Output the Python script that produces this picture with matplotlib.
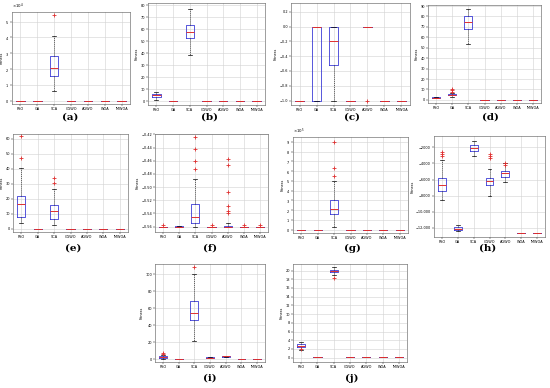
import matplotlib
matplotlib.use("Agg")
import matplotlib.pyplot as plt
from matplotlib.ticker import ScalarFormatter, MultipleLocator, FuncFormatter

W, H = 550, 388
categories = ["PSO", "GA", "SCA", "CGWO", "AGWO", "WOA", "IMWOA"]

# stats per category: [whislo, q1, median, q3, whishi]
stats_a = [[0, 0, 0, 0, 0], [0, 0, 0, 0, 0], [0.65e4, 1.55e4, 2.1e4, 2.8e4, 4.1e4],
           [0, 0, 0, 0, 0], [0, 0, 0, 0, 0], [0, 0, 0, 0, 0], [0, 0, 0, 0, 0]]
fliers_a = [[], [], [5.4e4], [], [], [], []]

stats_b = [[1.5, 3.5, 5, 6.5, 8], [0.3, 0.3, 0.3, 0.3, 0.3], [38.8, 53, 57.6, 64, 77],
           [0.3, 0.3, 0.3, 0.3, 0.3], [0.3, 0.3, 0.3, 0.3, 0.3], [0.3, 0.3, 0.3, 0.3, 0.3],
           [0.3, 0.3, 0.3, 0.3, 0.3]]
fliers_b = [[], [], [], [], [], [], []]

stats_c = [[-1, -1, -1, -1, -1], [-1, -1, 0, 0, 0], [-1, -0.514, -0.19, 0, 0],
           [-1, -1, -1, -1, -1], [0, 0, 0, 0, 0], [-1, -1, -1, -1, -1], [-1, -1, -1, -1, -1]]
fliers_c = [[], [], [], [], [-1], [], []]

stats_d = [[1.5, 2, 2.2, 2.5, 3], [3, 4.3, 5, 5.7, 7], [54, 67.7, 75, 80.7, 86.7],
           [0.3, 0.3, 0.3, 0.3, 0.3], [0.3, 0.3, 0.3, 0.3, 0.3], [0.3, 0.3, 0.3, 0.3, 0.3],
           [0.3, 0.3, 0.3, 0.3, 0.3]]
fliers_d = [[], [8, 9, 10], [], [], [], [], []]

stats_e = [[4, 8.2, 16.4, 22.2, 40.7], [0.3, 0.3, 0.3, 0.3, 0.3], [2.8, 6.8, 12, 16.2, 26.7],
           [0.2, 0.2, 0.2, 0.2, 0.2], [0.2, 0.2, 0.2, 0.2, 0.2], [0.1, 0.1, 0.1, 0.1, 0.1],
           [0.2, 0.2, 0.2, 0.2, 0.2]]
fliers_e = [[47.3, 61.4], [], [30.2, 34], [], [], [], []]

stats_f = [[-0.56, -0.56, -0.56, -0.56, -0.56], [-0.561, -0.561, -0.56, -0.5585, -0.5585],
           [-0.5605, -0.5548, -0.545, -0.5255, -0.488], [-0.56, -0.56, -0.56, -0.56, -0.56],
           [-0.5605, -0.5605, -0.56, -0.5585, -0.5548], [-0.56, -0.56, -0.56, -0.56, -0.56],
           [-0.56, -0.56, -0.56, -0.56, -0.56]]
fliers_f = [[-0.558], [], [-0.4235, -0.442, -0.4605, -0.473], [-0.558],
            [-0.457, -0.466, -0.508, -0.529, -0.537, -0.540], [-0.558], [-0.558]]

stats_g = [[0, 0, 0, 0, 0], [0, 0, 0, 0, 0], [0.24e5, 1.6e5, 2.1e5, 3.06e5, 4.95e5],
           [0, 0, 0, 0, 0], [0, 0, 0, 0, 0], [0, 0, 0, 0, 0], [0, 0, 0, 0, 0]]
fliers_g = [[], [], [9e5, 6.3e5, 5.5e5], [], [], [], []]

stats_h = [[-8510, -7440, -6610, -5780, -3580], [-12400, -12290, -12080, -11920, -11670],
           [-3040, -2460, -2120, -1710, -1170], [-7980, -6690, -6190, -5780, -4700],
           [-6270, -5650, -5240, -4950, -3990], [-12580, -12580, -12580, -12580, -12580],
           [-12580, -12580, -12580, -12580, -12580]]
fliers_h = [[-2540, -2800, -3080], [], [], [-2830, -3100, -3370], [-3900, -4160], [], []]

stats_i = [[1, 2, 3, 4, 5.5], [0.5, 0.5, 0.5, 0.5, 0.5], [21.6, 46, 55, 68, 100],
           [1.5, 1.8, 2, 2.3, 2.8], [3, 3.3, 3.5, 3.7, 4], [0.5, 0.5, 0.5, 0.5, 0.5],
           [0.5, 0.5, 0.5, 0.5, 0.5]]
fliers_i = [[6, 7], [], [108], [], [], [], []]

stats_j = [[1.73, 2.36, 2.76, 3.15, 3.7], [0.1, 0.1, 0.1, 0.1, 0.1], [19.05, 19.6, 19.9, 20.2, 20.8],
           [0.1, 0.1, 0.1, 0.1, 0.1], [0.05, 0.05, 0.05, 0.05, 0.05], [0.05, 0.05, 0.05, 0.05, 0.05],
           [0.05, 0.05, 0.05, 0.05, 0.05]]
fliers_j = [[1.9], [], [18.4], [], [], [], []]

panels = [
    ("(a)", stats_a, fliers_a, (12, 130, 12, 104), (-0.2e4, 5.6e4), 1e4, 70, 117, True),
    ("(b)", stats_b, fliers_b, (148, 265, 3, 105), (-3, 82), 10, 210, 117, False),
    ("(c)", stats_c, fliers_c, (291, 410, 3, 105), (-1.06, 0.32), 0.2, 352, 117, False),
    ("(d)", stats_d, fliers_d, (428, 541, 5, 103), (-3, 91), 10, 490, 117, False),
    ("(e)", stats_e, fliers_e, (13, 128, 134, 232), (-2, 63), 10, 73, 248, False),
    ("(f)", stats_f, fliers_f, (155, 268, 134, 232), (-0.5683, -0.4195), 0.02, 210, 248, False),
    ("(g)", stats_g, fliers_g, (293, 408, 137, 233), (-0.35e5, 9.5e5), 1e5, 352, 248, True),
    ("(h)", stats_h, fliers_h, (434, 545, 136, 237), (-13120, -590), 2000, 488, 248, False),
    ("(i)", stats_i, fliers_i, (155, 265, 264, 362), (-3, 112), 20, 210, 378, False),
    ("(j)", stats_j, fliers_j, (293, 407, 264, 362), (-1, 21.5), 2, 352, 378, False),
]


def h_fmt(v, p):
    s = "{:,.0f}".format(abs(v)) if abs(v) >= 10000 else "{:.0f}".format(abs(v))
    return ("\u2212" + s) if v < 0 else s


fig = plt.figure(figsize=(W / 100, H / 100), dpi=100)

for label, stats, fliers, (x0, x1, y0, y1), ylim, step, cx, cy, sci in panels:
    ax = fig.add_axes([x0 / W, 1 - y1 / H, (x1 - x0) / W, (y1 - y0) / H])
    bx = []
    for name, s, f in zip(categories, stats, fliers):
        bx.append(dict(label=name, whislo=s[0], q1=s[1], med=s[2], q3=s[3], whishi=s[4], fliers=f))
    ax.bxp(bx, widths=0.5, showfliers=True,
           boxprops=dict(color="#3b3bd6", linewidth=0.6),
           medianprops=dict(color="#e03030", linewidth=0.7),
           whiskerprops=dict(color="black", linewidth=0.4, linestyle=(0, (2, 1.5))),
           capprops=dict(color="black", linewidth=0.5),
           flierprops=dict(marker="+", markeredgecolor="#e03030", markersize=2.5, markeredgewidth=0.6))
    ax.set_ylim(*ylim)
    ax.yaxis.set_major_locator(MultipleLocator(step))
    ax.grid(True, color="#d2d2d2", linewidth=0.4)
    ax.set_axisbelow(True)
    ax.tick_params(labelsize=2.5, length=1.2, width=0.3, pad=1)
    for sp in ax.spines.values():
        sp.set_linewidth(0.4)
        sp.set_color("#555555")
    if sci:
        fmt = ScalarFormatter(useMathText=True)
        fmt.set_powerlimits((0, 0))
        ax.yaxis.set_major_formatter(fmt)
        ax.yaxis.get_offset_text().set_fontsize(2.8)
    elif label == "(h)":
        ax.yaxis.set_major_formatter(FuncFormatter(h_fmt))
    ax.set_ylabel("Fitness", fontsize=2.5, labelpad=1)
    fig.text(cx / W, 1 - cy / H, label, ha="center", va="center",
             fontsize=7.5, fontweight="bold", family="DejaVu Serif")

fig.savefig("out.png", dpi=100)
